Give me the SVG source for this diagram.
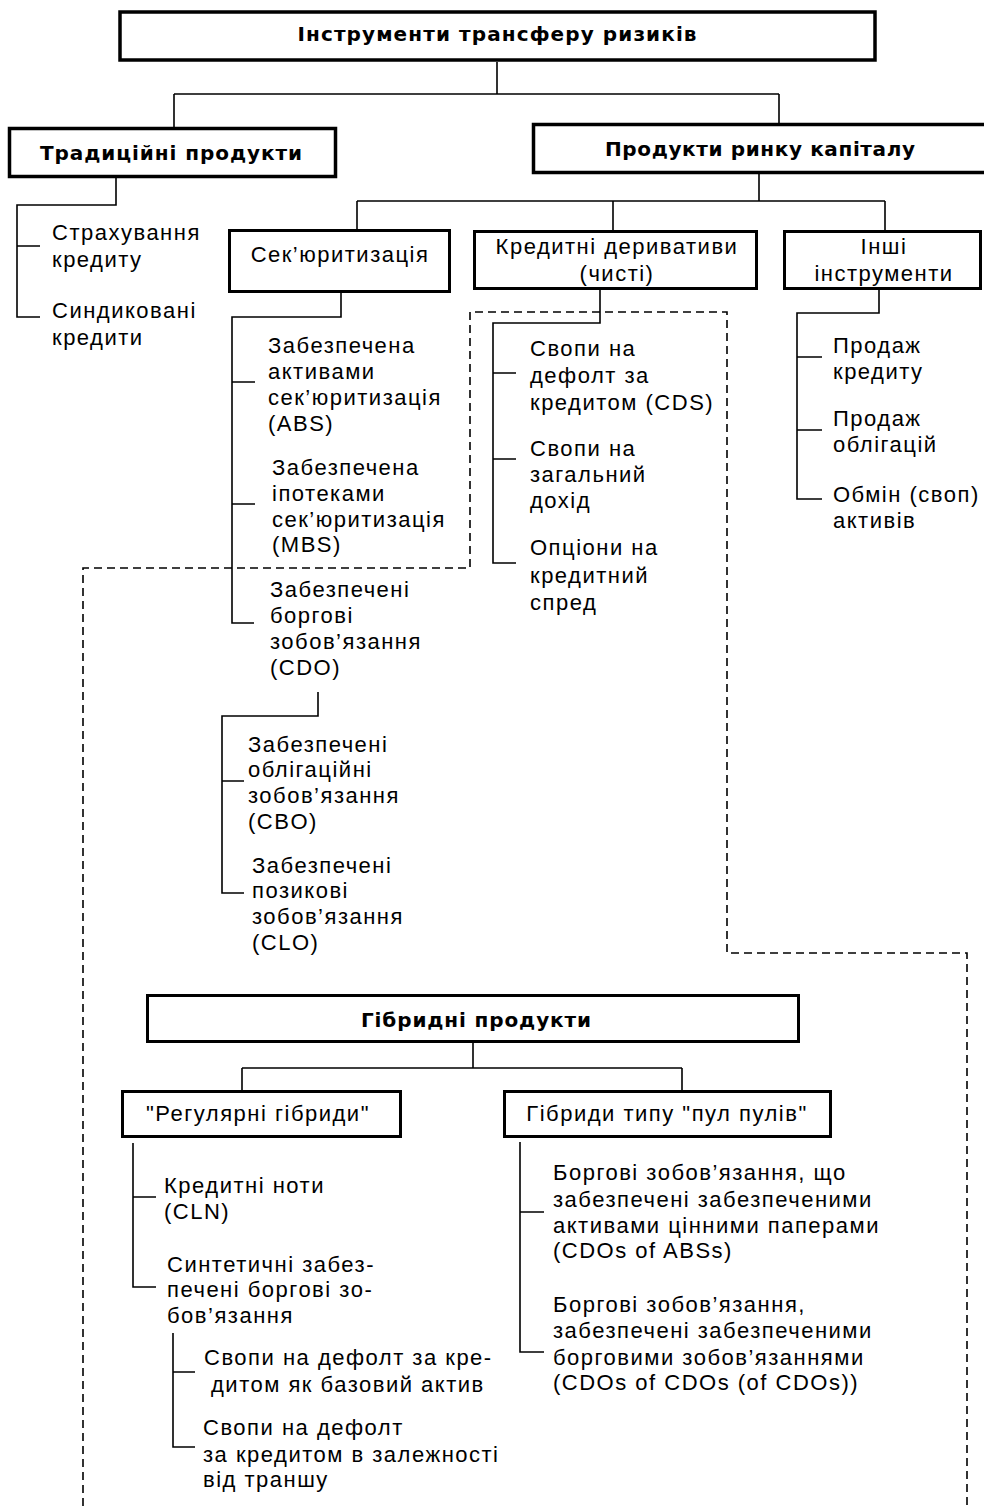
<svg xmlns="http://www.w3.org/2000/svg" width="984" height="1506" viewBox="0 0 984 1506">
<style>
.box{fill:#fff;stroke:#000;stroke-width:3}
.top{stroke-width:3.5}
.hdr{font-family:"DejaVu Sans","Liberation Sans",Arial,sans-serif;font-weight:bold;font-size:20px;fill:#000;text-anchor:middle}
.lbl{font-family:"Liberation Sans",Arial,sans-serif;font-size:22px;fill:#000;letter-spacing:1.5px;text-anchor:middle}
.t{font-family:"Liberation Sans",Arial,sans-serif;font-size:22px;fill:#000;letter-spacing:1.5px}
.ln{fill:none;stroke:#000;stroke-width:1.6}
.dash{fill:none;stroke:#000;stroke-width:1.6;stroke-dasharray:8 5}
</style>
<rect width="984" height="1506" fill="#fff"/>
<g id="connectors">
<path class="dash" d="M83 1506 V568 H470 V312 H727 V953 H967 V1506"/>
<path class="ln" d="M497 62 V94 M174 94 H779 M174 94 V127 M779 94 V123"/>
<path class="ln" d="M116 178 V205 H17 V317 H40 M17 246 H40"/>
<path class="ln" d="M759 174 V201 M357 201 H885 M357 201 V229 M613 201 V230 M885 201 V230"/>
<path class="ln" d="M341 293 V317 H232 V623 H254 M232 382 H255 M232 504 H255"/>
<path class="ln" d="M318 692 V716 H222 V893 H244 M222 781 H244"/>
<path class="ln" d="M600 290 V323 H493 V563 H516 M493 373 H516 M493 459 H516"/>
<path class="ln" d="M879 290 V313 H797 V499 H822 M797 357 H822 M797 430 H822"/>
<path class="ln" d="M473 1043 V1068 M242 1068 H682 M242 1068 V1090 M682 1068 V1090"/>
<path class="ln" d="M133 1143 V1287 H156 M133 1197 H156"/>
<path class="ln" d="M173 1333 V1447 H195 M173 1372 H195"/>
<path class="ln" d="M520 1142 V1352 H544 M520 1212 H544"/>
</g>
<g id="root">
<rect class="box top" x="120" y="12" width="755" height="48"/>
<text class="hdr" x="497" y="41" textLength="399" lengthAdjust="spacing">Інструменти трансферу ризиків</text>
</g>
<g id="traditional">
<rect class="box top" x="9.5" y="128.5" width="326" height="48"/>
<text class="hdr" x="171" y="160" textLength="262" lengthAdjust="spacing">Традиційні продукти</text>
</g>
<g id="capital">
<rect class="box top" x="533.5" y="124.5" width="460" height="48"/>
<text class="hdr" x="760" y="156" textLength="310" lengthAdjust="spacing">Продукти ринку капіталу</text>
</g>
<g id="trad-items">
<text class="t" x="52" y="240">Страхування</text>
<text class="t" x="52" y="267">кредиту</text>
<text class="t" x="52" y="318">Синдиковані</text>
<text class="t" x="52" y="345">кредити</text>
</g>
<g id="securitization">
<rect class="box" x="229.5" y="230.5" width="220" height="61"/>
<text class="lbl" x="340" y="262">Сек’юритизація</text>
</g>
<g id="credit-derivatives">
<rect class="box" x="474.5" y="231.5" width="282" height="57"/>
<text class="lbl" x="617" y="254">Кредитні деривативи</text>
<text class="lbl" x="617" y="281">(чисті)</text>
</g>
<g id="other-instruments">
<rect class="box" x="784.5" y="231.5" width="196" height="57"/>
<text class="lbl" x="884" y="254">Інші</text>
<text class="lbl" x="884" y="281">інструменти</text>
</g>
<g id="abs">
<text class="t" x="268" y="353">Забезпечена</text>
<text class="t" x="268" y="379">активами</text>
<text class="t" x="268" y="405">сек’юритизація</text>
<text class="t" x="268" y="431">(ABS)</text>
</g>
<g id="mbs">
<text class="t" x="272" y="475">Забезпечена</text>
<text class="t" x="272" y="501">іпотеками</text>
<text class="t" x="272" y="527">сек’юритизація</text>
<text class="t" x="272" y="552">(MBS)</text>
</g>
<g id="cdo">
<text class="t" x="270" y="597">Забезпечені</text>
<text class="t" x="270" y="623">боргові</text>
<text class="t" x="270" y="649">зобов’язання</text>
<text class="t" x="270" y="675">(CDO)</text>
</g>
<g id="cbo">
<text class="t" x="248" y="752">Забезпечені</text>
<text class="t" x="248" y="777">облігаційні</text>
<text class="t" x="248" y="803">зобов’язання</text>
<text class="t" x="248" y="829">(CBO)</text>
</g>
<g id="clo">
<text class="t" x="252" y="873">Забезпечені</text>
<text class="t" x="252" y="898">позикові</text>
<text class="t" x="252" y="924">зобов’язання</text>
<text class="t" x="252" y="950">(CLO)</text>
</g>
<g id="cds">
<text class="t" x="530" y="356">Свопи на</text>
<text class="t" x="530" y="383">дефолт за</text>
<text class="t" x="530" y="410">кредитом (CDS)</text>
</g>
<g id="trs">
<text class="t" x="530" y="456">Свопи на</text>
<text class="t" x="530" y="482">загальний</text>
<text class="t" x="530" y="508">дохід</text>
</g>
<g id="options">
<text class="t" x="530" y="555">Опціони на</text>
<text class="t" x="530" y="583">кредитний</text>
<text class="t" x="530" y="610">спред</text>
</g>
<g id="other-items">
<text class="t" x="833" y="353">Продаж</text>
<text class="t" x="833" y="379">кредиту</text>
<text class="t" x="833" y="426">Продаж</text>
<text class="t" x="833" y="452">облігацій</text>
<text class="t" x="833" y="502">Обмін (своп)</text>
<text class="t" x="833" y="528">активів</text>
</g>
<g id="hybrid">
<rect class="box" x="147.5" y="995.5" width="651" height="46"/>
<text class="hdr" x="476" y="1027" textLength="230" lengthAdjust="spacing">Гібридні продукти</text>
</g>
<g id="regular">
<rect class="box" x="122.5" y="1091.5" width="278" height="45"/>
<text class="lbl" x="258" y="1121">"Регулярні гібриди"</text>
</g>
<g id="pool">
<rect class="box" x="504.5" y="1091.5" width="326" height="45"/>
<text class="lbl" x="667" y="1121">Гібриди типу "пул пулів"</text>
</g>
<g id="cln">
<text class="t" x="164" y="1193">Кредитні ноти</text>
<text class="t" x="164" y="1219">(CLN)</text>
</g>
<g id="synthetic">
<text class="t" x="167" y="1272">Синтетичні забез-</text>
<text class="t" x="167" y="1297">печені боргові зо-</text>
<text class="t" x="167" y="1323">бов’язання</text>
</g>
<g id="cds-base">
<text class="t" x="204" y="1365">Свопи на дефолт за кре-</text>
<text class="t" x="211" y="1392">дитом як базовий актив</text>
</g>
<g id="cds-tranche">
<text class="t" x="203" y="1435">Свопи на дефолт</text>
<text class="t" x="203" y="1462">за кредитом в залежності</text>
<text class="t" x="203" y="1487">від траншу</text>
</g>
<g id="cdo-abs">
<text class="t" x="553" y="1180">Боргові зобов’язання, що</text>
<text class="t" x="553" y="1207">забезпечені забезпеченими</text>
<text class="t" x="553" y="1233">активами цінними паперами</text>
<text class="t" x="553" y="1258">(CDOs of ABSs)</text>
</g>
<g id="cdo-cdo">
<text class="t" x="553" y="1312">Боргові зобов’язання,</text>
<text class="t" x="553" y="1338">забезпечені забезпеченими</text>
<text class="t" x="553" y="1365">борговими зобов’язаннями</text>
<text class="t" x="553" y="1390">(CDOs of CDOs (of CDOs))</text>
</g>
</svg>
